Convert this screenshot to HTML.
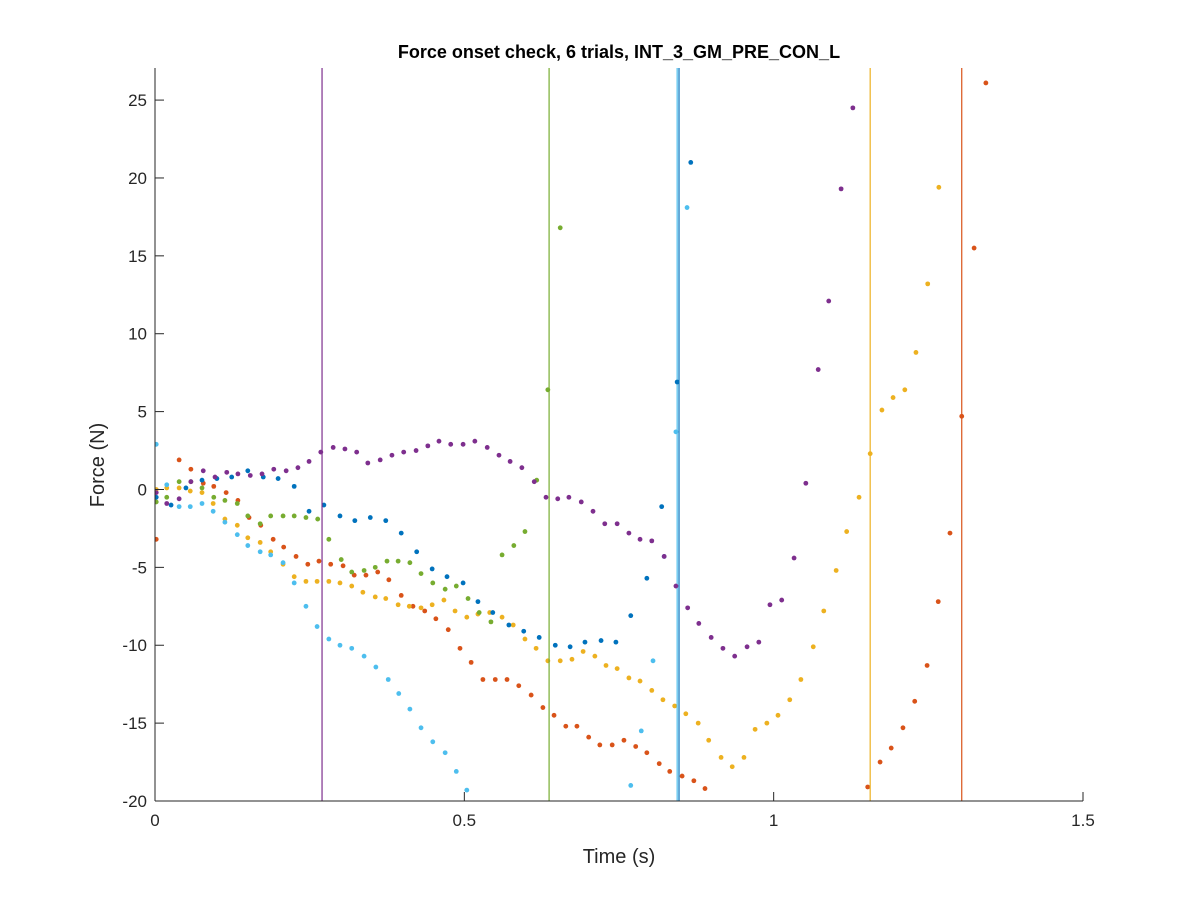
<!DOCTYPE html>
<html><head><meta charset="utf-8"><style>
html,body{margin:0;padding:0;background:#fff;}
svg{display:block;font-family:"Liberation Sans",Arial,sans-serif;}
</style></head><body>
<svg id="chart" width="1200" height="900" viewBox="0 0 1200 900" xmlns="http://www.w3.org/2000/svg">
<rect width="1200" height="900" fill="#fff"/>
<text x="619" y="58" text-anchor="middle" font-size="18" font-weight="bold" fill="#000">Force onset check, 6 trials, INT_3_GM_PRE_CON_L</text>
<g id="marks"></g>
<g id="axes"></g>
<text x="619" y="863" text-anchor="middle" font-size="20" fill="#262626">Time (s)</text>
<text transform="translate(104,465) rotate(-90)" text-anchor="middle" font-size="20" fill="#262626">Force (N)</text>
</svg>
<script>
const xTicks = [0, 0.5, 1, 1.5];
const xTickLabels = ["0", "0.5", "1", "1.5"];
const yTicks = [-20, -15, -10, -5, 0, 5, 10, 15, 20, 25];
const yTickLabels = ["-20", "-15", "-10", "-5", "0", "5", "10", "15", "20", "25"];
const seriesNames = ["blue", "orange", "yellow", "purple", "green", "cyan"];
const seriesColors = ["#0072BD", "#D95319", "#EDB120", "#7E2F8E", "#77AC30", "#4DBEEE"];
const onsetTimes = [0.847, 1.304, 1.156, 0.270, 0.637, 0.844];

const blueT = [0.002,0.026,0.05,0.076,0.1,0.124,0.15,0.175,0.199,0.225,0.249,0.273,0.299,0.323,0.348,0.373,0.398,0.423,0.448,0.472,0.498,0.522,0.546,0.572,0.596,0.621,0.647,0.671,0.695,0.721,0.745,0.769,0.795,0.819,0.844,0.866];
const blueF = [-0.5,-1.0,0.1,0.6,0.7,0.8,1.2,0.8,0.7,0.2,-1.4,-1.0,-1.7,-2.0,-1.8,-2.0,-2.8,-4.0,-5.1,-5.6,-6.0,-7.2,-7.9,-8.7,-9.1,-9.5,-10.0,-10.1,-9.8,-9.7,-9.8,-8.1,-5.7,-1.1,6.9,21.0];

const orangeT = [0.002,0.039,0.058,0.078,0.095,0.115,0.134,0.152,0.171,0.191,0.208,0.228,0.247,0.265,0.284,0.304,0.322,0.341,0.36,0.378,0.398,0.417,0.436,0.454,0.474,0.493,0.511,0.53,0.55,0.569,0.588,0.608,0.627,0.645,0.664,0.682,0.701,0.719,0.739,0.758,0.777,0.795,0.815,0.832,0.852,0.871,0.889,1.152,1.172,1.19,1.209,1.228,1.248,1.266,1.285,1.304,1.324,1.343];
const orangeF = [-3.2,1.9,1.3,0.4,0.2,-0.2,-0.7,-1.8,-2.3,-3.2,-3.7,-4.3,-4.8,-4.6,-4.8,-4.9,-5.5,-5.5,-5.3,-5.8,-6.8,-7.5,-7.8,-8.3,-9.0,-10.2,-11.1,-12.2,-12.2,-12.2,-12.6,-13.2,-14.0,-14.5,-15.2,-15.2,-15.9,-16.4,-16.4,-16.1,-16.5,-16.9,-17.6,-18.1,-18.4,-18.7,-19.2,-19.1,-17.5,-16.6,-15.3,-13.6,-11.3,-7.2,-2.8,4.7,15.5,26.1];

const yellowT = [0.002,0.019,0.039,0.057,0.076,0.094,0.113,0.133,0.15,0.17,0.187,0.207,0.225,0.244,0.262,0.281,0.299,0.318,0.336,0.356,0.373,0.393,0.411,0.43,0.448,0.467,0.485,0.504,0.522,0.541,0.561,0.579,0.598,0.616,0.635,0.655,0.674,0.692,0.711,0.729,0.747,0.766,0.784,0.803,0.821,0.84,0.858,0.878,0.895,0.915,0.933,0.952,0.97,0.989,1.007,1.026,1.044,1.064,1.081,1.101,1.118,1.138,1.156,1.175,1.193,1.212,1.23,1.249,1.267];
const yellowF = [0.0,0.1,0.1,-0.1,-0.2,-0.9,-1.9,-2.3,-3.1,-3.4,-4.0,-4.8,-5.6,-5.9,-5.9,-5.9,-6.0,-6.2,-6.6,-6.9,-7.0,-7.4,-7.5,-7.6,-7.4,-7.1,-7.8,-8.2,-8.0,-7.9,-8.2,-8.7,-9.6,-10.2,-11.0,-11.0,-10.9,-10.4,-10.7,-11.3,-11.5,-12.1,-12.3,-12.9,-13.5,-13.9,-14.4,-15.0,-16.1,-17.2,-17.8,-17.2,-15.4,-15.0,-14.5,-13.5,-12.2,-10.1,-7.8,-5.2,-2.7,-0.5,2.3,5.1,5.9,6.4,8.8,13.2,19.4];

const purpleT = [0.002,0.019,0.039,0.058,0.078,0.097,0.116,0.134,0.154,0.173,0.192,0.212,0.231,0.249,0.268,0.288,0.307,0.326,0.344,0.364,0.383,0.402,0.422,0.441,0.459,0.478,0.498,0.517,0.537,0.556,0.574,0.593,0.613,0.632,0.651,0.669,0.689,0.708,0.727,0.747,0.766,0.784,0.803,0.823,0.842,0.861,0.879,0.899,0.918,0.937,0.957,0.976,0.994,1.013,1.033,1.052,1.072,1.089,1.109,1.128];
const purpleF = [-0.2,-0.9,-0.6,0.5,1.2,0.8,1.1,1.0,0.9,1.0,1.3,1.2,1.4,1.8,2.4,2.7,2.6,2.4,1.7,1.9,2.2,2.4,2.5,2.8,3.1,2.9,2.9,3.1,2.7,2.2,1.8,1.4,0.5,-0.5,-0.6,-0.5,-0.8,-1.4,-2.2,-2.2,-2.8,-3.2,-3.3,-4.3,-6.2,-7.6,-8.6,-9.5,-10.2,-10.7,-10.1,-9.8,-7.4,-7.1,-4.4,0.4,7.7,12.1,19.3,24.5];

const greenT = [0.002,0.019,0.039,0.058,0.076,0.095,0.113,0.133,0.15,0.17,0.187,0.207,0.225,0.244,0.263,0.281,0.301,0.318,0.338,0.356,0.375,0.393,0.412,0.43,0.449,0.469,0.487,0.506,0.524,0.543,0.561,0.58,0.598,0.617,0.635,0.655];
const greenF = [-0.8,-0.5,0.5,0.5,0.1,-0.5,-0.7,-0.9,-1.7,-2.2,-1.7,-1.7,-1.7,-1.8,-1.9,-3.2,-4.5,-5.3,-5.2,-5.0,-4.6,-4.6,-4.7,-5.4,-6.0,-6.4,-6.2,-7.0,-7.9,-8.5,-4.2,-3.6,-2.7,0.6,6.4,16.8];

const cyanT = [0.002,0.019,0.039,0.057,0.076,0.094,0.113,0.133,0.15,0.17,0.187,0.207,0.225,0.244,0.262,0.281,0.299,0.318,0.338,0.357,0.377,0.394,0.412,0.43,0.449,0.469,0.487,0.504,0.769,0.786,0.805,0.823,0.842,0.86];
const cyanF = [2.9,0.3,-1.1,-1.1,-0.9,-1.4,-2.1,-2.9,-3.6,-4.0,-4.2,-4.7,-6.0,-7.5,-8.8,-9.6,-10.0,-10.2,-10.7,-11.4,-12.2,-13.1,-14.1,-15.3,-16.2,-16.9,-18.1,-19.3,-19.0,-15.5,-11.0,-4.3,3.7,18.1];

const NS = "http://www.w3.org/2000/svg";
const L = 155, R = 1083, T = 68, B = 801;
const xMin = 0, xMax = 1.5, yMin = -20, yMax = 27.06;
function xs(v){ return L + (v - xMin) / (xMax - xMin) * (R - L); }
function ys(v){ return B - (v - yMin) / (yMax - yMin) * (B - T); }
function mk(tag, attrs, parent){ const e = document.createElementNS(NS, tag); for (const k in attrs) e.setAttribute(k, attrs[k]); parent.appendChild(e); return e; }

const marks = document.getElementById('marks');
const axes = document.getElementById('axes');
const clip = mk('clipPath', {id:'pc'}, document.getElementById('chart'));
mk('rect', {x:L, y:T, width:R-L, height:B-T}, clip);
marks.setAttribute('clip-path', 'url(#pc)');

const seriesT = [blueT, orangeT, yellowT, purpleT, greenT, cyanT];
const seriesF = [blueF, orangeF, yellowF, purpleF, greenF, cyanF];
// draw order: later on top
const order = [1, 2, 4, 5, 0, 3];
order.forEach(function(i){
  const g = mk('g', {}, marks);
  
  
  const line = mk('line', {x1: xs(onsetTimes[i]), x2: xs(onsetTimes[i]), y1: T, y2: B, stroke: seriesColors[i], 'stroke-width': 1.2}, g);
  
  
  seriesT[i].forEach(function(t, j){
    const c = mk('circle', {cx: xs(t), cy: ys(seriesF[i][j]), r: 2.4, fill: seriesColors[i]}, g);
    
    
  });
});

const xa = mk('line', {x1:L, x2:R, y1:B, y2:B, stroke:'#262626', 'stroke-width':1}, axes);


const ya = mk('line', {x1:L, x2:L, y1:T, y2:B, stroke:'#262626', 'stroke-width':1}, axes);


xTicks.forEach(function(v, i){
  const tk = mk('line', {x1:xs(v), x2:xs(v), y1:B, y2:B-9, stroke:'#262626'}, axes);
  
  
  const tx = mk('text', {x:xs(v), y:B+25, 'text-anchor':'middle', 'font-size':17, fill:'#262626'}, axes);
  tx.textContent = xTickLabels[i];
  
  
});
yTicks.forEach(function(v, i){
  const tk = mk('line', {x1:L, x2:L+9, y1:ys(v), y2:ys(v), stroke:'#262626'}, axes);
  
  
  const tx = mk('text', {x:L-8, y:ys(v)+6, 'text-anchor':'end', 'font-size':17, fill:'#262626'}, axes);
  tx.textContent = yTickLabels[i];
  
  
});
</script>
</body></html>
